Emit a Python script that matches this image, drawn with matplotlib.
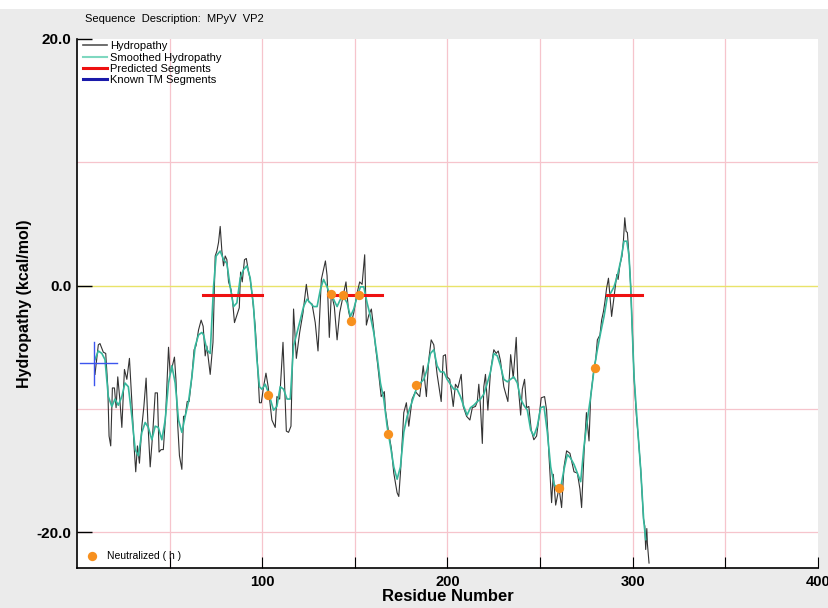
import matplotlib.pyplot as plt
from matplotlib.lines import Line2D
from matplotlib.patches import Rectangle

# Valeurs
residus = [9.7, 11.5, 12.4, 14.2, 15.5, 16.6, 17.3, 18.2, 19.1, 20.2, 21.1, 22.0, 23.1, 24.2, 25.6, 26.9,
           28.3, 29.6, 30.8, 31.7, 32.6, 33.7, 35.0, 36.1, 37.3, 38.2, 39.5, 40.9, 42.2, 43.4, 44.3, 45.4,
           46.6, 47.9, 49.4, 50.3, 51.5, 52.6, 53.4, 54.4, 55.3, 56.6, 57.5, 58.4, 59.5, 60.5, 62.0, 63.2,
           64.2, 65.6, 67.0, 68.1, 69.2, 70.1, 71.9, 73.4, 74.6, 75.5, 76.4, 77.3, 78.2, 79.1, 80.0, 80.9,
           81.8, 83.1, 83.9, 85.0, 86.3, 87.6, 88.3, 89.2, 90.4, 91.4, 92.4, 93.5, 94.8, 96.2, 97.5, 98.5,
           99.5, 100.7, 102.0, 103.2, 105.2, 107.0, 107.9, 109.4, 111.2, 113.0, 114.2, 115.5, 116.9, 118.4,
           120.2, 122.0, 123.8, 125.0, 126.9, 128.6, 130.1, 131.9, 134.1, 135.0, 136.2, 137.3, 138.9, 140.4,
           141.8, 145.2, 146.6, 148.1, 149.4, 151.2, 152.6, 153.9, 155.3, 156.2, 157.5, 158.9, 159.8, 161.1,
           162.3, 164.2, 165.9, 166.5, 168.3, 169.7, 171.0, 172.8, 173.7, 174.6, 176.4, 177.8, 179.1, 180.9,
           182.7, 185.0, 186.9, 188.6, 189.9, 191.2, 192.6, 194.4, 196.6, 197.7, 198.9, 199.8, 201.2, 202.2,
           203.1, 204.3, 205.6, 207.4, 208.5, 210.3, 212.1, 213.4, 215.1, 216.1, 216.9, 217.8, 218.8, 219.6,
           220.5, 221.8, 223.2, 225.0, 226.3, 227.4, 228.6, 230.4, 232.6, 234.1, 235.5, 237.1, 238.0, 239.5,
           240.4, 241.6, 242.7, 243.9, 245.2, 246.6, 248.1, 249.4, 250.6, 252.4, 253.5, 254.8, 256.2, 257.1,
           258.4, 260.2, 261.6, 262.9, 264.3, 266.1, 268.3, 270.1, 271.5, 272.4, 273.7, 275.0, 276.4, 277.3,
           279.1, 280.0, 280.9, 282.3, 283.2, 284.2, 285.0, 285.9, 286.9, 287.7, 288.6, 289.9, 291.4, 292.1,
           293.1, 294.2, 295.0, 295.7, 296.4, 297.1, 298.0, 298.9, 299.8, 300.7, 302.0, 303.0, 304.3, 305.8,
           306.5, 307.0, 307.6, 307.9, 308.8]
hydropathie = [-7.2, -4.8, -4.7, -5.4, -5.5, -8.2, -12.2, -13.0, -8.3, -8.3, -9.9, -7.4, -9.2, -11.5, -6.8, -7.6,
               -5.9, -9.4, -13.0, -15.1, -13.0, -14.4, -11.4, -9.8, -7.5, -10.9, -14.7, -11.9, -8.7, -8.7, -13.5, -13.3,
               -13.3, -10.3, -5.0, -7.2, -6.5, -5.8, -7.6, -11.4, -13.8, -14.9, -10.6, -10.6, -9.4, -9.4, -7.4, -5.2,
               -4.9, -3.6, -2.8, -3.3, -5.7, -4.9, -7.2, -4.6, 2.4, 2.8, 3.5, 4.8, 2.8, 1.6, 2.4, 2.1,
               0.3, -0.3, -1.1, -3.0, -2.4, -1.8, 1.1, 0.3, 2.1, 2.2, 1.3, 0.5, -1.1, -3.3, -6.5, -9.5,
               -9.5, -8.2, -7.1, -8.2, -10.9, -11.5, -9.0, -9.2, -4.6, -11.8, -11.9, -11.4, -1.9, -5.9,
               -3.8, -2.2, 0.1, -1.3, -1.5, -3.0, -5.3, 0.5, 2.0, 0.8, -4.2, -0.6, -1.7, -4.4,
               -2.2, 0.3, -2.1, -3.0, -2.2, -0.6, 0.3, 0.1, 2.5, -3.2, -2.4, -1.9, -3.0, -4.9,
               -6.4, -9.0, -8.6, -10.1, -12.0, -13.2, -15.2, -16.8, -17.1, -15.2, -10.3, -9.5, -11.4, -9.2,
               -8.6, -9.0, -6.5, -9.0, -6.0, -4.4, -4.8, -7.2, -9.4, -5.7, -5.6, -7.4, -7.6, -8.7,
               -9.8, -8.0, -8.3, -7.2, -9.8, -10.6, -10.9, -9.9, -9.8, -9.4, -8.0, -9.8, -12.8, -8.2,
               -7.2, -10.1, -7.0, -5.2, -5.5, -5.3, -6.1, -8.2, -9.4, -5.6, -7.5, -4.2, -7.8, -10.5,
               -8.4, -7.6, -9.9, -9.8, -11.7, -12.5, -12.2, -10.7, -9.1, -9.0, -10.1, -13.8, -17.6, -15.3,
               -17.8, -16.4, -18.0, -14.7, -13.4, -13.6, -15.1, -15.2, -16.5, -18.0, -13.6, -10.3, -12.6, -9.0,
               -6.7, -6.0, -4.4, -4.0, -2.8, -2.1, -1.3, -0.2, 0.6, -0.9, -2.5, -0.9, 0.9, 0.5,
               1.7, 2.4, 3.7, 5.5, 4.4, 4.3, 2.4, -0.1, -3.8, -7.4, -10.6, -12.3, -14.9, -18.9,
               -19.5, -21.4, -19.7, -20.9, -22.5]

residus_lisse = [9.7, 11.5, 13.4, 15.1, 16.9, 18.8, 20.5, 22.3, 24.2, 25.9, 27.7, 29.6, 31.4, 33.1, 35.0, 36.8,
                 38.5, 40.4, 42.2, 43.9, 45.8, 47.6, 49.4, 51.2, 53.0, 54.8, 56.6, 58.4, 60.2, 62.0, 63.8, 65.6,
                 67.4, 68.3, 70.1, 71.9, 73.7, 75.1, 77.3, 79.1, 80.9, 82.7, 84.5, 86.3, 88.1, 89.9, 91.7, 93.5,
                 95.3, 97.1, 98.5, 99.8, 101.6, 103.4, 106.1, 107.9, 109.7, 111.5, 113.4, 115.1, 116.9, 118.8,
                 120.5, 122.3, 124.2, 125.9, 127.7, 129.6, 131.4, 133.1, 135.0, 136.8, 138.5, 140.4, 142.2, 143.9,
                 145.8, 147.6, 149.4, 151.2, 153.0, 154.8, 156.6, 158.4, 160.2, 162.0, 163.8, 165.6, 167.4, 169.2,
                 171.0, 172.8, 174.6, 176.4, 178.2, 180.0, 181.8, 183.6, 185.4, 187.2, 189.0, 190.8, 192.6, 194.4,
                 196.2, 198.0, 199.8, 201.6, 203.4, 205.2, 207.0, 208.8, 210.6, 212.4, 214.2, 216.1, 217.8, 219.6,
                 221.5, 223.2, 225.0, 226.9, 228.6, 230.4, 232.3, 234.1, 235.8, 237.7, 239.5, 241.2, 243.1, 244.9,
                 246.6, 248.5, 250.3, 252.1, 253.9, 255.7, 257.5, 259.3, 261.1, 262.9, 264.7, 266.5, 268.3, 270.1,
                 271.9, 273.7, 275.5, 277.3, 279.1, 280.9, 282.7, 284.5, 286.3, 288.1, 289.9, 291.7, 293.5, 295.3,
                 296.8, 298.0, 298.9, 300.7, 303.0, 304.3, 305.9, 307.0]
hydropathie_lisse = [-6.0, -5.3, -5.5, -6.0, -9.0, -9.8, -9.2, -9.7, -9.0, -7.9, -8.2, -10.6, -13.3, -13.8, -11.9, -11.1,
                     -11.5, -12.5, -11.4, -11.5, -12.5, -10.9, -7.9, -6.5, -7.9, -10.9, -11.9, -10.6, -9.4, -7.4, -4.9, -4.0,
                     -3.8, -4.0, -5.2, -5.5, -0.1, 2.4, 2.8, 2.1, 1.8, -0.1, -1.7, -1.4, 0.6, 1.3, 1.6, 0.6,
                     -1.7, -6.0, -8.2, -8.4, -8.0, -8.7, -10.1, -9.8, -8.2, -8.4, -9.2, -9.2, -4.9, -3.8,
                     -2.8, -1.7, -1.1, -1.4, -1.7, -1.7, -0.3, 0.5, -0.1, -0.9, -1.1, -1.7, -1.1, -0.9,
                     -1.4, -2.5, -1.9, -0.9, -0.1, -0.1, -1.4, -2.5, -3.8, -5.7, -7.9, -9.2, -11.4, -13.0,
                     -14.7, -15.7, -14.7, -11.9, -10.6, -9.8, -9.0, -8.2, -7.9, -7.6, -6.8, -5.5, -5.2, -6.5,
                     -7.0, -7.0, -7.6, -8.0, -8.4, -8.4, -9.0, -9.8, -10.5, -9.9, -9.7, -9.4, -9.2, -8.8,
                     -7.9, -7.0, -5.5, -5.7, -6.5, -7.6, -7.8, -7.6, -7.4, -7.9, -9.2, -9.7, -10.1, -11.7,
                     -12.2, -11.4, -9.9, -9.8, -11.9, -14.7, -16.1, -16.5, -16.4, -14.9, -13.7, -14.0, -14.5, -15.2,
                     -15.9, -13.0, -10.9, -9.0, -6.8, -5.2, -3.8, -2.5, -0.9, -0.6, -0.1, 0.8, 2.0, 3.6,
                     3.6, 2.4, -0.1, -7.4, -12.3, -14.9, -19.0, -20.6]

# Segments predits (debut, fin) a -0.8
segments_predits = [(68.1, 100.0), (135.7, 164.9), (286.0, 305.0)]
niveau_segments = -0.8

# Segment TM connu (croix bleue)
tm_debut, tm_fin, tm_niveau = 1.5, 21.5, -6.3
tm_pos, tm_haut, tm_bas = 9.4, -4.6, -8.1

# Residus neutralises (h)
neutre_x = [103.2, 137.3, 143.8, 148.1, 152.4, 168.1, 183.2, 260.0, 279.5]
neutre_y = [-8.9, -0.7, -0.8, -2.9, -0.8, -12.0, -8.1, -16.4, -6.7]

xticks_labels = [100, 200, 300, 400]
yticks_labels = [20, 0, -20]

plt.rcParams['font.family'] = ['Liberation Sans', 'DejaVu Sans']

fig = plt.figure(figsize=(8.29, 6.08), dpi=100)
fig.patch.set_facecolor('#ebebeb')
# bande blanche en haut de l'image
fig.patches.append(Rectangle((0, 1 - 9 / 608), 1, 9 / 608, transform=fig.transFigure,
                             facecolor='white', edgecolor='none'))
ax = fig.add_axes([0.0929, 0.0658, 0.8938, 0.8701])
ax.set_facecolor('white')

# Grille
for gx in range(50, 400, 50):
    ax.axvline(gx, color='#f6c4cc', lw=0.9, zorder=0)
for gy in [10, -10, -20]:
    ax.axhline(gy, color='#f6c4cc', lw=0.9, zorder=0)
ax.axhline(0, color='#e9e36a', lw=1.0, zorder=1)

# Courbes
ax.plot(residus, hydropathie, color='#333333', lw=0.8, zorder=2)
ax.plot(residus_lisse, hydropathie_lisse, color='#36b79c', lw=1.2, zorder=3)

for deb, fin in segments_predits:
    ax.plot([deb, fin], [niveau_segments, niveau_segments], color='#ee1111', lw=2.2, zorder=4)

ax.plot([tm_debut, tm_fin], [tm_niveau, tm_niveau], color='#3c55ee', lw=1.0, zorder=4)
ax.plot([tm_pos, tm_pos], [tm_haut, tm_bas], color='#3c55ee', lw=1.0, zorder=4)

ax.scatter(neutre_x, neutre_y, s=45, color='#f7901e', zorder=5, linewidths=0)

ax.set_xlim(0, 400)
ax.set_ylim(-22.9, 20)

# Axes et graduations
ax.set_xticks(xticks_labels)
ax.set_xticklabels([str(v) for v in xticks_labels], fontsize=10.5, fontweight='bold')
ax.set_xticks(range(50, 400, 100), minor=True)
ax.tick_params(axis='x', which='both', direction='in', length=8, width=0.8, pad=5)
ax.set_yticks(yticks_labels)
ax.set_yticklabels(['%.1f' % v for v in yticks_labels], fontsize=11, fontweight='bold')
ax.tick_params(axis='y', direction='in', length=11, width=1.0, pad=4)

for s in ['top', 'right']:
    ax.spines[s].set_visible(False)
ax.spines['left'].set_linewidth(1.2)
ax.spines['bottom'].set_linewidth(1.2)

ax.set_xlabel('Residue Number', fontsize=12, fontweight='bold', labelpad=0)
ax.set_ylabel('Hydropathy (kcal/mol)', fontsize=11.5, fontweight='bold', labelpad=3)

# Legende
poignees = [Line2D([], [], color='#555555', lw=1.2),
            Line2D([], [], color='#7fd8c0', lw=1.5),
            Line2D([], [], color='#ee1111', lw=2.2),
            Line2D([], [], color='#1a1aaa', lw=2.2)]
ax.legend(poignees, ['Hydropathy', 'Smoothed Hydropathy', 'Predicted Segments', 'Known TM Segments'],
          loc='upper left', frameon=False, fontsize=8, handlelength=2.2, handletextpad=0.3,
          labelspacing=0.12, borderaxespad=0.1, bbox_to_anchor=(0.0, 1.006))

ax.scatter([0.02], [0.023], s=45, color='#f7901e', transform=ax.transAxes, clip_on=False, linewidths=0)
ax.text(0.04, 0.023, 'Neutralized ( h )', transform=ax.transAxes, fontsize=7.5, va='center')

fig.text(85 / 829, 1 - 19 / 608, 'Sequence  Description:  MPyV  VP2', fontsize=8, va='center')

plt.savefig('out.png', dpi=100, facecolor=fig.get_facecolor())
